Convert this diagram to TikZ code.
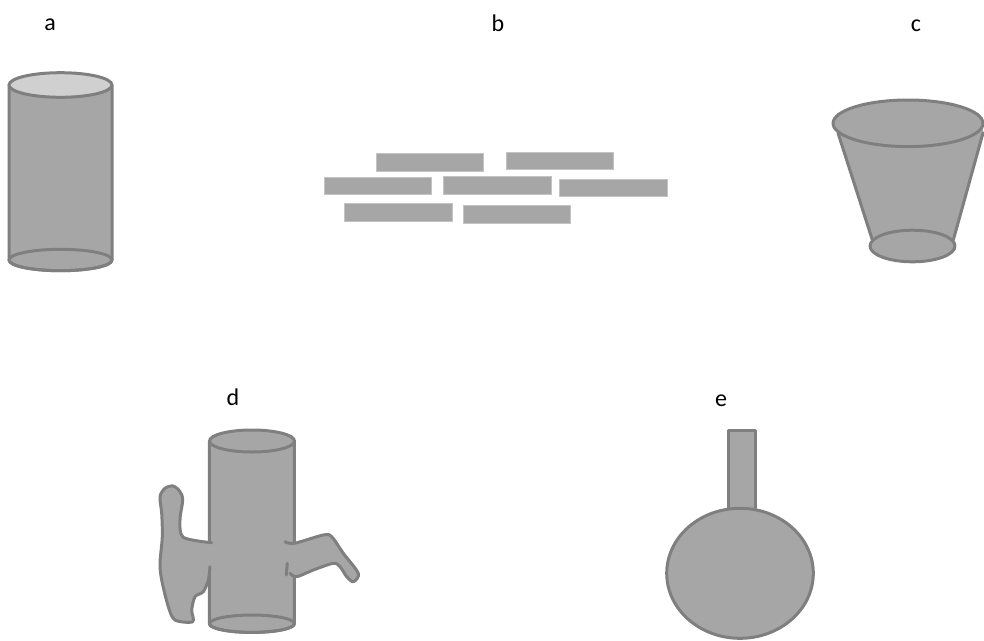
\documentclass[tikz,border=0pt]{standalone}
\usepackage{fontspec}
\setmainfont{Carlito}
\begin{document}
\definecolor{bodygray}{HTML}{A6A6A6}
\definecolor{edgegray}{HTML}{7F7F7F}
\definecolor{lidgray}{HTML}{D0D0D0}
\definecolor{brickedge}{HTML}{C4C4C4}
\begin{tikzpicture}[x=1pt,y=-1pt,
  solid/.style={fill=bodygray,draw=edgegray,line width=3pt,line join=round},
  outline/.style={draw=edgegray,line width=3pt,line join=round,line cap=round},
  brick/.style={fill=bodygray,draw=brickedge,line width=0.8pt},
  tag/.style={anchor=base,font=\fontsize{24}{28}\selectfont,inner sep=0pt}]
\useasboundingbox (0,0) rectangle (984,640);

% labels
\node[tag] (la) at (50,30) {a};
\node[tag] (lb) at (498,31) {b};
\node[tag] (lc) at (916,31.5) {c};
\node[tag] (ld) at (233,405) {d};
\node[tag] (le) at (721,406.5) {e};

% (a) upright cylinder with a light lid
\path[solid] (9,85) -- (9,260) arc[start angle=180,end angle=360,x radius=51.5pt,y radius=10.7pt]
  -- (112,85) -- cycle;
\draw[outline] (60.5,260) ellipse[x radius=51.5pt,y radius=10.7pt];
\path[solid,fill=lidgray] (60.5,85) ellipse[x radius=51.5pt,y radius=12.3pt];

% (b) loose bricks
\path[brick] (376,153.3) rectangle (483.7,171);
\path[brick] (506,152) rectangle (613,169.3);
\path[brick] (324,177.3) rectangle (431.3,194.3);
\path[brick] (443.3,176.7) rectangle (551.3,194.3);
\path[brick] (559.3,179) rectangle (667.3,196);
\path[brick] (344.7,203.3) rectangle (452.7,221);
\path[brick] (463,205.3) rectangle (570.7,223);

% (c) tapered bucket
\fill[bodygray] (833,123) -- (838,133) -- (873,242) -- (912.5,250) -- (953.3,240)
  -- (983,133) -- (983,123) -- cycle;
\draw[outline] (838,133) -- (873,242);
\draw[outline] (983,133) -- (953.3,240);
\path[solid] (912.5,246) ellipse[x radius=42.5pt,y radius=15.8pt];
\path[solid] (908,123.3) ellipse[x radius=75pt,y radius=23.3pt];

% (d) cylinder with a handle and a spout
\path[solid] (209.3,441) -- (209.3,623.7) arc[start angle=180,end angle=360,x radius=42.5pt,y radius=8.7pt]
  -- (294.3,441) -- cycle;
% handle on the left
\fill[bodygray] plot[smooth,tension=0.5] coordinates {
  (211.7,542.7) (183.3,537.3) (180,520) (182.7,500) (180,491.7) (173.3,486)
  (165,488.3) (160,496.7) (161.7,513.3) (162.3,536.7) (160,563.3) (161.7,580)
  (168.3,606.7) (175,620) (192.7,621.7) (191.7,610) (195,596.7) (203.3,591.7)
  (208.3,580) (210,566.7)} -- (225,566.7) -- (225,542.7) -- cycle;
\draw[outline] plot[smooth,tension=0.5] coordinates {
  (211.7,542.7) (183.3,537.3) (180,520) (182.7,500) (180,491.7) (173.3,486)
  (165,488.3) (160,496.7) (161.7,513.3) (162.3,536.7) (160,563.3) (161.7,580)
  (168.3,606.7) (175,620) (192.7,621.7) (191.7,610) (195,596.7) (203.3,591.7)
  (208.3,580) (210,566.7)};
% spout on the right
\fill[bodygray] plot[smooth,tension=0.5] coordinates {
  (285,541.7) (294.3,543.3) (323.3,535) (331.7,536.7) (343.3,553.3) (358.3,573.3)
  (353.3,581.7) (346.7,576.7) (340,566.7) (333.3,563.3) (313.3,570) (296.7,576.7)
  (290,573.3) (287.3,563.3) (286,575)} -- (280,575) -- (280,541.7) -- cycle;
\draw[outline] plot[smooth,tension=0.5] coordinates {
  (285,541.7) (294.3,543.3) (323.3,535) (331.7,536.7) (343.3,553.3) (358.3,573.3)
  (353.3,581.7) (346.7,576.7) (340,566.7) (333.3,563.3) (313.3,570) (296.7,576.7)
  (290,573.3)};
\draw[outline] (287.3,563.3) -- (286.3,575);
\draw[outline] (252,623.7) ellipse[x radius=42.5pt,y radius=8.7pt];
\path[solid] (252,441) ellipse[x radius=42.5pt,y radius=11pt];

% (e) round flask with a narrow neck
\path[solid] (728.3,430.7) rectangle (755.7,515);
\path[solid] (740,573.3) ellipse[x radius=73.3pt,y radius=65pt];
\end{tikzpicture}
\end{document}
